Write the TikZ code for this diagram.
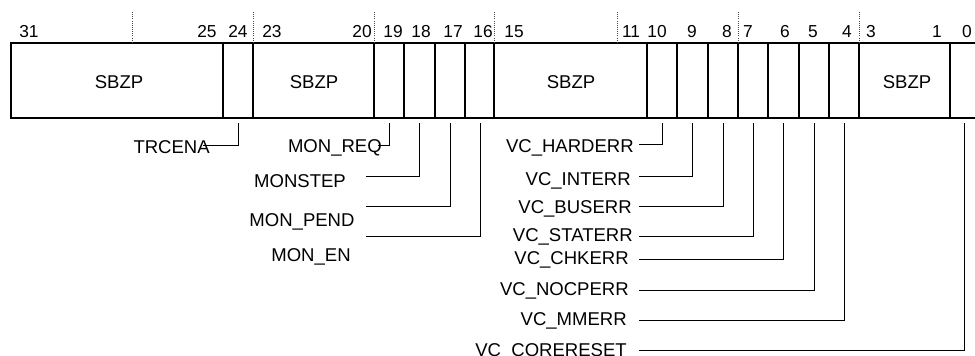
\documentclass[tikz,border=0pt]{standalone}
\usepackage{fontspec}
\setmainfont{Liberation Sans}
\begin{document}
\begin{tikzpicture}[x=0.75pt,y=-0.75pt,
  boxline/.style={line width=0.9pt,black},
  conn/.style={line width=0.75pt,black},
  tick/.style={densely dotted,line width=0.6pt,black!70},
  num/.style={anchor=base,inner sep=0pt,font=\fontsize{13}{15}\selectfont},
  fld/.style={anchor=base,inner sep=0pt,font=\fontsize{13.9}{16}\selectfont},
  lbl/.style={anchor=base east,inner sep=0pt,font=\fontsize{13.9}{16}\selectfont},
  lblc/.style={anchor=base,inner sep=0pt,font=\fontsize{13.9}{16}\selectfont}]
\useasboundingbox (0,0) rectangle (975,356);
\clip (0,0) rectangle (975,356);
% register box
\draw[boxline] (11,43) rectangle (979,118);
\foreach \x in {223,253,374,404,435,465,494,647,677,708,738,768,799,829,859,950}
  \draw[boxline] (\x,43) -- (\x,118);
% dotted ticks
\foreach \x in {132,253,374,494,617,738,859}
  \draw[tick] (\x,12) -- (\x,43);
% bit numbers
\foreach \x/\n in {29/31,207/25,238/24,272/23,362/20,393/19,421/18,453/17,483/16,514/15,631/11,657/10,692/9,727/8,748/7,785/6,813/5,847/4,871/3,937/1,967/0}
  \node[num] at (\x,37.5) {\n};
% SBZP fields
\node[fld] (s1) at (119,89) {SBZP};
\node[fld] (s2) at (314,89) {SBZP};
\node[fld] (s3) at (571,89) {SBZP};
\node[fld] (s4) at (907,89) {SBZP};
% field bottoms
\foreach \b/\x in {24/238,19/389,18/419,17/450,16/480,10/662,9/692,8/723,7/753,6/783,5/814,4/844,0/964}
  \coordinate (b\b) at (\x,123);
% labels
\node[lbl] (l24) at (210,154) {TRCENA};
\node[lbl] (l19) at (382,153) {MON\_REQ};
\node[lblc] (l18) at (300,188) {MONSTEP};
\node[lblc] (l17) at (302,227) {MON\_PEND};
\node[lblc] (l16) at (311,262) {MON\_EN};
\node[lbl] (l10) at (634,153) {VC\_HARDERR};
\node[lbl] (l9) at (631,186) {VC\_INTERR};
\node[lbl] (l8) at (632,214) {VC\_BUSERR};
\node[lbl] (l7) at (633,242) {VC\_STATERR};
\node[lbl] (l6) at (629,264) {VC\_CHKERR};
\node[lbl] (l5) at (629,295) {VC\_NOCPERR};
\node[lbl] (l4) at (627,325) {VC\_MMERR};
\node[lbl] (l0) at (627,356) {VC\_CORERESET};
% connector ends
\coordinate (e24) at (203,146);
\coordinate (e19) at (378,146);
\coordinate (e18) at (366,177);
\coordinate (e17) at (366,207);
\coordinate (e16) at (366,237);
\coordinate (e10) at (639,145);
\coordinate (e9) at (639,177);
\coordinate (e8) at (639,207);
\coordinate (e7) at (639,237);
\coordinate (e6) at (639,260);
\coordinate (e5) at (639,290);
\coordinate (e4) at (639,320);
\coordinate (e0) at (639,350);
\foreach \b in {24,19,18,17,16,10,9,8,7,6,5,4,0}
  \draw[conn] (b\b) |- (e\b);
\end{tikzpicture}
\end{document}
